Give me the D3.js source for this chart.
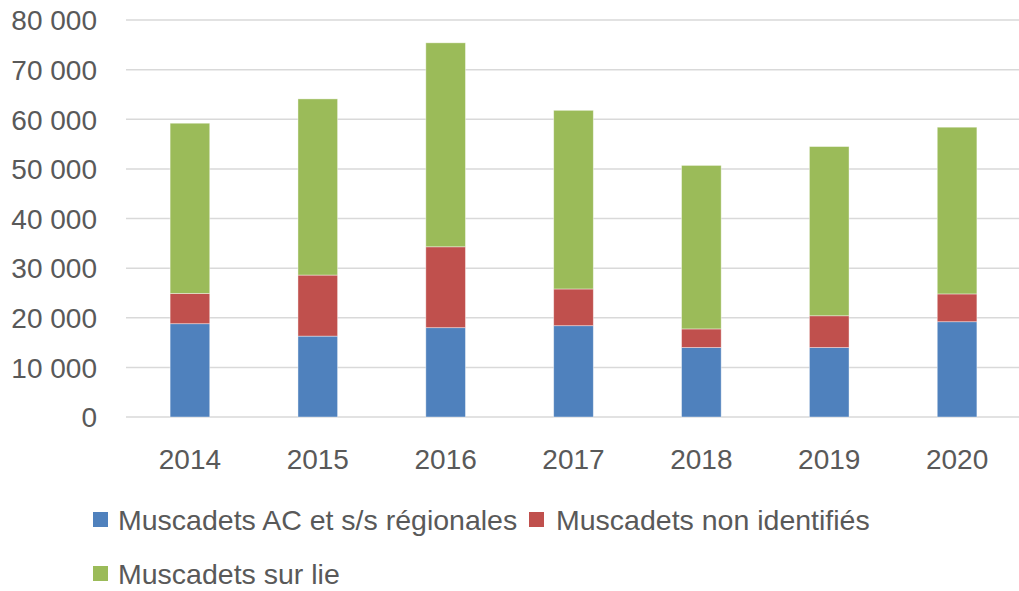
<!DOCTYPE html>
<html>
<head>
<meta charset="utf-8">
<script src="https://cdn.jsdelivr.net/npm/d3@7"></script>
<style>
  body{margin:0;background:#fff;}
  text{font-family:"Liberation Sans", Arial, sans-serif;fill:#595959;}
</style>
</head>
<body>
<div class="chart"></div>
<script>
/*data*/
var years=["2014","2015","2016","2017","2018","2019","2020"];
var regionales=[18800,16300,18000,18400,14000,14000,19200];
var nonIdentifies=[6100,12300,16300,7400,3750,6400,5600];
var surLie=[34300,35500,41100,36000,32950,34100,33600];
var seriesNames=["Muscadets AC et s/s régionales","Muscadets non identifiés","Muscadets sur lie"];
var seriesColors=["#4F81BD","#C0504D","#9BBB59"];
var yTicks=[0,10000,20000,30000,40000,50000,60000,70000,80000];

/*dimensions*/
var width=1019, height=591;
var margin={top:20, left:126, right:0};

var rows=years.map(function(y,i){
  return {year:y, a:regionales[i], b:nonIdentifies[i], c:surLie[i]};
});
var stack=d3.stack().keys(["a","b","c"])(rows);

var xScale=d3.scaleBand().domain(years).range([margin.left,1021]).paddingInner(0.69).paddingOuter(0.345);
var yScale=d3.scaleLinear().domain([0,80000]).range([417,margin.top]);

var svg=d3.select(".chart").append("svg")
  .attr("width",width).attr("height",height);

var fmt=function(v){return d3.format(",")(v).replace(/,/g," ");};

// gridlines
svg.append("g").selectAll("line").data(yTicks).enter().append("line")
  .attr("x1",margin.left).attr("x2",1019)
  .attr("y1",function(d){return yScale(d);}).attr("y2",function(d){return yScale(d);})
  .style("stroke","#d9d9d9").style("stroke-width","1.5px");

// bars
svg.append("g").selectAll("g").data(stack).enter().append("g")
  .attr("fill",function(d,i){return seriesColors[i];})
  .selectAll("rect").data(function(d){return d;}).enter().append("rect")
  .attr("x",function(d){return xScale(d.data.year);})
  .attr("width",xScale.bandwidth())
  .attr("y",function(d){return yScale(d[1]);})
  .attr("height",function(d){return yScale(d[0])-yScale(d[1]);})
  .style("stroke","#ffffff").style("stroke-opacity",0.5).style("stroke-width","0.8px");

// y axis labels
var yAxis=d3.axisLeft(yScale).tickValues(yTicks).tickFormat(fmt).tickSize(0).tickPadding(0);
var gy=svg.append("g").attr("transform","translate(97,0)").call(yAxis);
gy.select(".domain").remove();
gy.selectAll("text").style("font-size","28px").style("fill","#595959").attr("dy","0.35em")
  .style("font-family","Liberation Sans, Arial, sans-serif");

// x axis labels
var xAxis=d3.axisBottom(xScale).tickSize(0).tickPadding(0);
var gx=svg.append("g").attr("transform","translate(0,449)").call(xAxis);
gx.select(".domain").remove();
gx.selectAll("text").style("font-size","28px").style("fill","#595959").attr("dy","0.71em")
  .style("font-family","Liberation Sans, Arial, sans-serif");

// legend
var legendPos=[[93,520],[529,520],[93,574]];
var leg=svg.append("g").selectAll("g").data(seriesNames).enter().append("g")
  .attr("transform",function(d,i){return "translate("+legendPos[i][0]+","+legendPos[i][1]+")";});
leg.append("rect").attr("x",0).attr("y",-8).attr("width",15).attr("height",15)
  .attr("fill",function(d,i){return seriesColors[i];});
leg.append("text").attr("x",function(d,i){return i==1?27:25;}).attr("dy","0.35em").text(function(d){return d;})
  .style("font-size","28.5px");
</script>
</body>
</html>
